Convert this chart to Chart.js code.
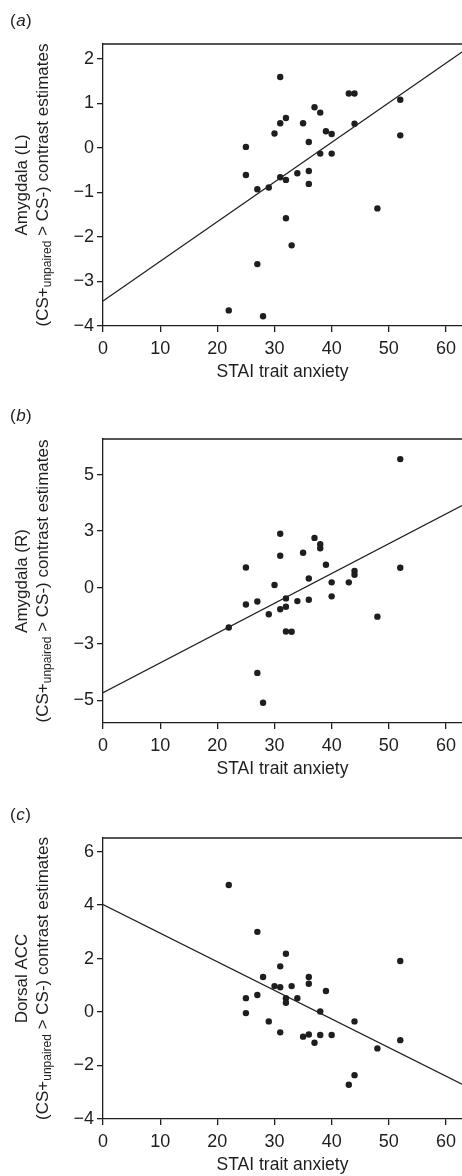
<!DOCTYPE html>
<html><head><meta charset="utf-8">
<script src="https://cdn.jsdelivr.net/npm/chart.js@4.4.0/dist/chart.umd.min.js"></script>
<style>
html,body{margin:0;padding:0;background:#fff;width:462px;height:1176px;overflow:hidden;}
.p{position:absolute;left:0;width:462px;}
canvas{display:block;}
</style></head><body>
<div class="p" style="top:0px"><canvas id="ca" width="462" height="392"></canvas></div>
<div class="p" style="top:395px"><canvas id="cb" width="462" height="394"></canvas></div>
<div class="p" style="top:794px"><canvas id="cc" width="462" height="391"></canvas></div>
<script>
// ---- shared axis data ----
const xTicks = [0, 10, 20, 30, 40, 50, 60];
const xTickLabels = ['0', '10', '20', '30', '40', '50', '60'];
const X_MAX = 62.8;

// ---- panel (a): Amygdala (L) ----
const anxietyA = [22, 25, 25, 27, 27, 28, 29, 30, 31, 31, 31, 32, 32, 32, 33, 34, 35, 36, 36, 36, 37, 38, 38, 39, 40, 40, 43, 44, 44, 48, 52, 52];
const amygdalaL = [-3.65, 0.02, -0.61, -0.93, -2.61, -3.78, -0.89, 0.32, 1.59, 0.55, -0.66, 0.67, -0.72, -1.58, -2.19, -0.57, 0.55, 0.13, -0.52, -0.81, 0.91, 0.79, -0.13, 0.37, 0.31, -0.13, 1.22, 1.22, 0.54, -1.36, 1.08, 0.28];
const yTicksA = [-4, -3, -2, -1, 0, 1, 2];
const yTickLabelsA = ['\u22124', '\u22123', '\u22122', '\u22121', '0', '1', '2'];
const fitA = { intercept: -3.44, slope: 0.089 };

// ---- panel (b): Amygdala (R) ----
const anxietyB = [22, 25, 25, 27, 27, 28, 29, 30, 31, 31, 31, 32, 32, 32, 33, 34, 35, 36, 36, 37, 38, 38, 39, 40, 40, 43, 44, 44, 48, 52, 52];
const amygdalaR = [-1.77, 0.89, -0.75, -0.62, -3.78, -5.10, -1.18, 0.11, 2.38, 1.41, -0.96, -0.48, -0.85, -1.95, -1.96, -0.60, 1.54, 0.40, -0.54, 2.20, 1.92, 1.74, 1.01, 0.23, -0.39, 0.23, 0.73, 0.57, -1.29, 5.69, 0.88];
const yTicksB = [-5, -2.5, 0, 2.5, 5];
const yTickLabelsB = ['\u22125', '\u22123', '0', '3', '5'];
const fitB = { intercept: -4.66, slope: 0.132 };

// ---- panel (c): Dorsal ACC ----
const anxietyC = [22, 25, 25, 27, 27, 28, 29, 30, 31, 31, 31, 32, 32, 32, 33, 34, 35, 36, 36, 36, 37, 38, 38, 39, 40, 43, 44, 44, 48, 52, 52];
const dorsalACC = [4.75, 0.52, -0.04, 3.00, 0.64, 1.31, -0.35, 0.97, 1.71, 0.93, -0.76, 2.18, 0.52, 0.35, 0.97, 0.52, -0.92, 1.31, 1.06, -0.84, -1.15, 0.02, -0.86, 0.79, -0.86, -2.72, -0.35, -2.36, -1.36, 1.91, -1.05];
const yTicksC = [-4, -2, 0, 2, 4, 6];
const yTickLabelsC = ['\u22124', '\u22122', '0', '2', '4', '6'];
const fitC = { intercept: 4.02, slope: -0.107 };

const INK = '#1e1e1e';
const FONT = '"Liberation Sans", Arial, sans-serif';
const FS = 17;
const TFS = 18;

const annot = {
  id: 'annot',
  afterDraw(chart, args, opts) {
    const ctx = chart.ctx, ca = chart.chartArea;
    ctx.save();
    ctx.strokeStyle = INK; ctx.lineWidth = 1.3;
    ctx.beginPath(); ctx.moveTo(ca.left, ca.top); ctx.lineTo(ca.right, ca.top); ctx.stroke();
    ctx.fillStyle = INK; ctx.textBaseline = 'middle'; ctx.textAlign = 'left';
    const normal = FS + 'px ' + FONT, ital = 'italic ' + FS + 'px ' + FONT, sub = '12px ' + FONT;
    let x = 10; const ly = ca.top - 23;
    ctx.font = normal; ctx.fillText('(', x, ly); x += ctx.measureText('(').width + 0.5;
    ctx.font = ital; ctx.fillText(opts.letter, x, ly); x += ctx.measureText(opts.letter).width + 0.5;
    ctx.font = normal; ctx.fillText(')', x, ly);
    const cy = (ca.top + ca.bottom) / 2;
    ctx.save();
    ctx.translate(22, cy); ctx.rotate(-Math.PI / 2);
    ctx.textAlign = 'center'; ctx.font = normal;
    ctx.fillText(opts.region, 0, 0);
    ctx.restore();
    const parts = [
      { t: '(CS+', f: normal, dy: 0 },
      { t: 'unpaired', f: sub, dy: 5 },
      { t: ' > CS-) contrast estimates', f: normal, dy: 0 }
    ];
    let total = 0;
    parts.forEach(p => { ctx.font = p.f; p.w = ctx.measureText(p.t).width; total += p.w; });
    ctx.save();
    ctx.translate(43, cy); ctx.rotate(-Math.PI / 2);
    ctx.textAlign = 'left';
    let px = -total / 2;
    parts.forEach(p => { ctx.font = p.f; ctx.fillText(p.t, px, p.dy); px += p.w; });
    ctx.restore();
    ctx.restore();
  }
};

function makeChart(id, xs, ys, yMin, yMax, yTicks, yLabels, fit, letter, region) {
  const pts = xs.map((v, i) => ({ x: v, y: ys[i] }));
  const line = [{ x: 0, y: fit.intercept }, { x: X_MAX, y: fit.intercept + fit.slope * X_MAX }];
  return new Chart(document.getElementById(id), {
    type: 'scatter',
    data: {
      datasets: [
        { data: pts, backgroundColor: INK, borderColor: INK, borderWidth: 0, pointRadius: 3.2, pointHoverRadius: 3.2 },
        { type: 'line', data: line, borderColor: INK, borderWidth: 1.2, pointRadius: 0, fill: false, showLine: true }
      ]
    },
    options: {
      responsive: false, animation: false, devicePixelRatio: 1,
      layout: { autoPadding: false, padding: { top: 44, left: 0, right: 0, bottom: 0 } },
      plugins: { legend: { display: false }, tooltip: { enabled: false }, annot: { letter, region } },
      scales: {
        x: {
          type: 'linear', min: 0, max: X_MAX,
          afterBuildTicks: s => { s.ticks = xTicks.map(v => ({ value: v })); },
          afterFit: s => { s.height = 66; },
          ticks: { callback: (v, i) => xTickLabels[i], font: { size: TFS, family: FONT }, color: INK, padding: 6, maxRotation: 0, autoSkip: false },
          grid: { display: true, drawOnChartArea: false, drawTicks: true, tickLength: 6, color: INK, lineWidth: 1.3 },
          border: { display: true, color: INK, width: 1.3 },
          title: { display: true, text: 'STAI trait anxiety', font: { size: 17.5, family: FONT }, color: INK, padding: { top: 0, bottom: 9 } }
        },
        y: {
          type: 'linear', min: yMin, max: yMax,
          afterBuildTicks: s => { s.ticks = yTicks.map(v => ({ value: v })); },
          afterFit: s => { s.width = 103; },
          ticks: { callback: (v, i) => yLabels[i], font: { size: TFS, family: FONT }, color: INK, padding: 3, autoSkip: false },
          grid: { display: true, drawOnChartArea: false, drawTicks: true, tickLength: 6, color: INK, lineWidth: 1.3 },
          border: { display: true, color: INK, width: 1.3 }
        }
      }
    },
    plugins: [annot]
  });
}

makeChart('ca', anxietyA, amygdalaL, -4, 2.33, yTicksA, yTickLabelsA, fitA, 'a', 'Amygdala (L)');
makeChart('cb', anxietyB, amygdalaR, -6, 6.58, yTicksB, yTickLabelsB, fitB, 'b', 'Amygdala (R)');
makeChart('cc', anxietyC, dorsalACC, -4, 6.51, yTicksC, yTickLabelsC, fitC, 'c', 'Dorsal ACC');
</script>
</body></html>
